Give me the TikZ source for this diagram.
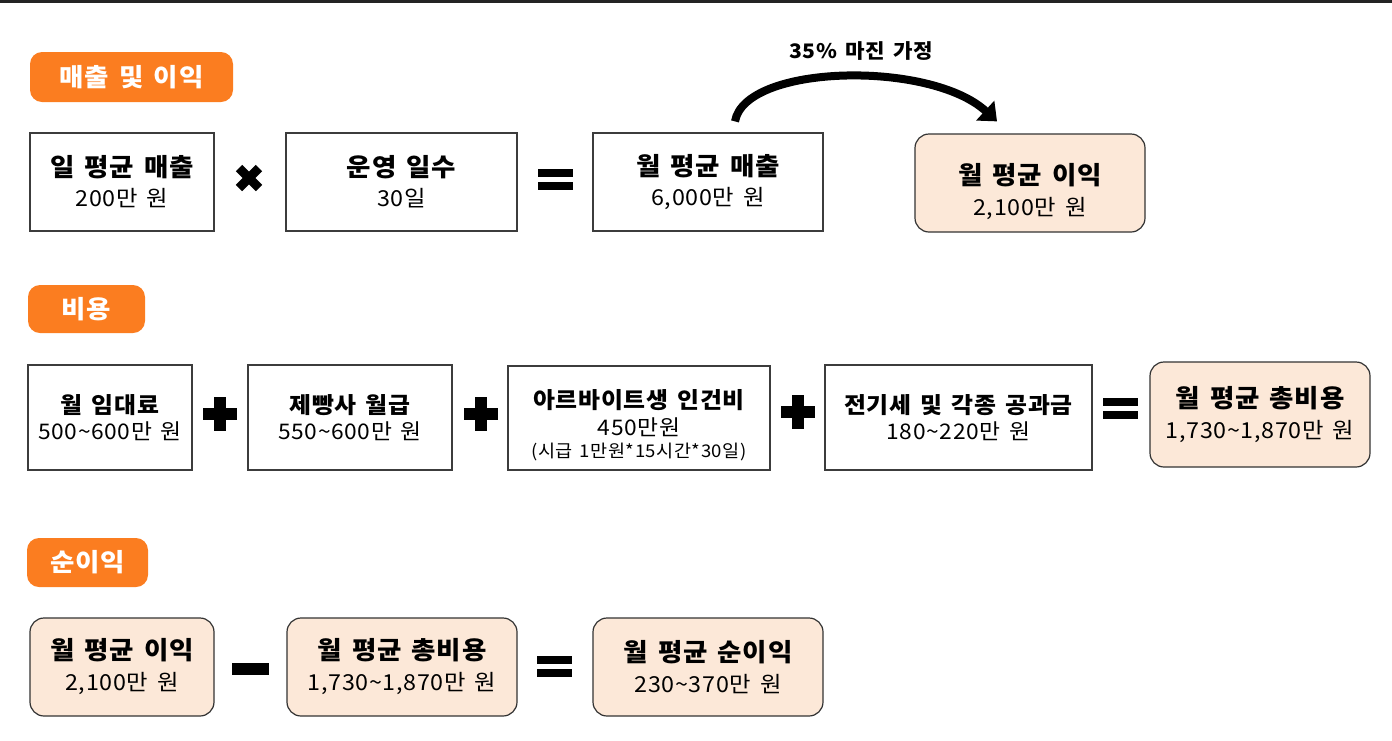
\documentclass[tikz,border=0pt]{standalone}
\usepackage{fontspec}
\setmainfont{Noto Sans CJK KR}[WordSpace=1.5,LetterSpace=3,FakeStretch=1.06]
\usetikzlibrary{arrows.meta,calc}

\definecolor{peach}{RGB}{252,232,216}
\definecolor{tagorange}{RGB}{251,125,32}
\definecolor{boxline}{RGB}{60,60,60}
\definecolor{topbar}{RGB}{35,35,35}

% title and value lines inside the boxes
\newcommand{\hd}[1]{{\fontsize{25}{30}\selectfont\bfseries #1}}
\newcommand{\hdsm}[1]{{\fontsize{22.5}{27}\selectfont\bfseries #1}}
\newcommand{\note}[1]{{\fontsize{17.5}{22}\selectfont #1}}

\tikzset{
  timesop/.pic={\draw[line width=9pt] (-10,-10) -- (10,10) (-10,10) -- (10,-10);},
  plusop/.pic={\fill (-17,-6) rectangle (17,6); \fill (-6,-17) rectangle (6,17);},
  equalop/.pic={\fill (-17.5,-10.5) rectangle (17.5,-2.5); \fill (-17.5,2.5) rectangle (17.5,10.5);},
  minusop/.pic={\fill (-18.5,-6) rectangle (18.5,6);}
}

\begin{document}
\begin{tikzpicture}[x=1pt,y=-1pt,
    whitebox/.style={draw=boxline,line width=1.2pt,fill=white,align=center,inner sep=0pt,
      font=\fontsize{22}{30}\selectfont},
    whitesm/.style={whitebox,font=\fontsize{21.5}{26}\selectfont},
    peachbox/.style={draw=black!80,line width=1.2pt,fill=peach,rounded corners=14pt,
      align=center,inner sep=0pt,font=\fontsize{22}{31}\selectfont},
    sectag/.style={fill=tagorange,rounded corners=12pt,text=white,inner sep=0pt,
      font=\fontsize{25}{30}\selectfont\bfseries},
    bigarrow/.style={line width=8pt,-{Triangle[width=26pt,length=16pt]}}]
    \useasboundingbox (0,0) rectangle (1392,740);
    \fill[topbar] (0,0) rectangle (1392,2.5);

    % sales and profit
    \node[sectag,minimum width=203,minimum height=50] (tag1) at (131.5,77) {매출 및 이익};
    \node[whitebox,minimum width=184,minimum height=98] (m1) at (122,182) {\hd{일 평균 매출}\\200만 원};
    \node[whitebox,minimum width=231,minimum height=98] (m2) at (401.5,182) {\hd{운영 일수}\\30일};
    \node[whitebox,minimum width=230,minimum height=98] (m3) at (708,182) {\hd{월 평균 매출}\\6,000만 원};
    \node[peachbox,minimum width=230,minimum height=98] (m4) at (1030,183) {\hd{\rule{0pt}{38pt}월 평균 이익}\\2,100만 원};
    \pic at (249,178) {timesop};
    \pic at (555,179.5) {equalop};
    \coordinate (arrS) at ($(m3.north)+(27,-11)$);
    \coordinate (arrE) at ($(m4.north)+(-33,-12)$);
    \draw[bigarrow] (arrS) .. controls (745,64) and (930,60) .. (arrE);
    \node[font=\fontsize{20}{24}\selectfont\bfseries] (margin) at (861,51) {35\% 마진 가정};

    % costs
    \node[sectag,minimum width=117,minimum height=48] (tag2) at (86.5,309) {비용};
    \node[whitesm,minimum width=164,minimum height=105] (c1) at (110,417.5) {\hdsm{월 임대료}\\500\textasciitilde600만 원};
    \node[whitesm,minimum width=204,minimum height=105] (c2) at (350,417.5) {\hdsm{제빵사 월급}\\550\textasciitilde600만 원};
    \node[whitesm,minimum width=262,minimum height=104] (c3) at (639,418) {\hdsm{\rule{0pt}{34pt}아르바이트생 인건비}\\[1pt]450만원\\[-4pt]\note{(시급 1만원*15시간*30일)}};
    \node[whitesm,minimum width=267,minimum height=105] (c4) at (958.5,417.5) {\hdsm{전기세 및 각종 공과금}\\180\textasciitilde220만 원};
    \node[peachbox,minimum width=220,minimum height=105] (c5) at (1260,414.5) {\hd{월 평균 총비용}\\1,730\textasciitilde1,870만 원};
    \pic at (220,414) {plusop};
    \pic at (481,414) {plusop};
    \pic at (798,412) {plusop};
    \pic at (1120,408) {equalop};

    % net profit
    \node[sectag,minimum width=121,minimum height=49] (tag3) at (87.5,562.5) {순이익};
    \node[peachbox,minimum width=184,minimum height=98] (n1) at (122,667) {\hd{월 평균 이익}\\2,100만 원};
    \node[peachbox,minimum width=230,minimum height=98] (n2) at (402,667) {\hd{월 평균 총비용}\\1,730\textasciitilde1,870만 원};
    \node[peachbox,minimum width=230,minimum height=98] (n3) at (708,667) {\hd{월 평균 순이익}\\230\textasciitilde370만 원};
    \pic at (250,669) {minusop};
    \pic at (554,666) {equalop};
\end{tikzpicture}
\end{document}
